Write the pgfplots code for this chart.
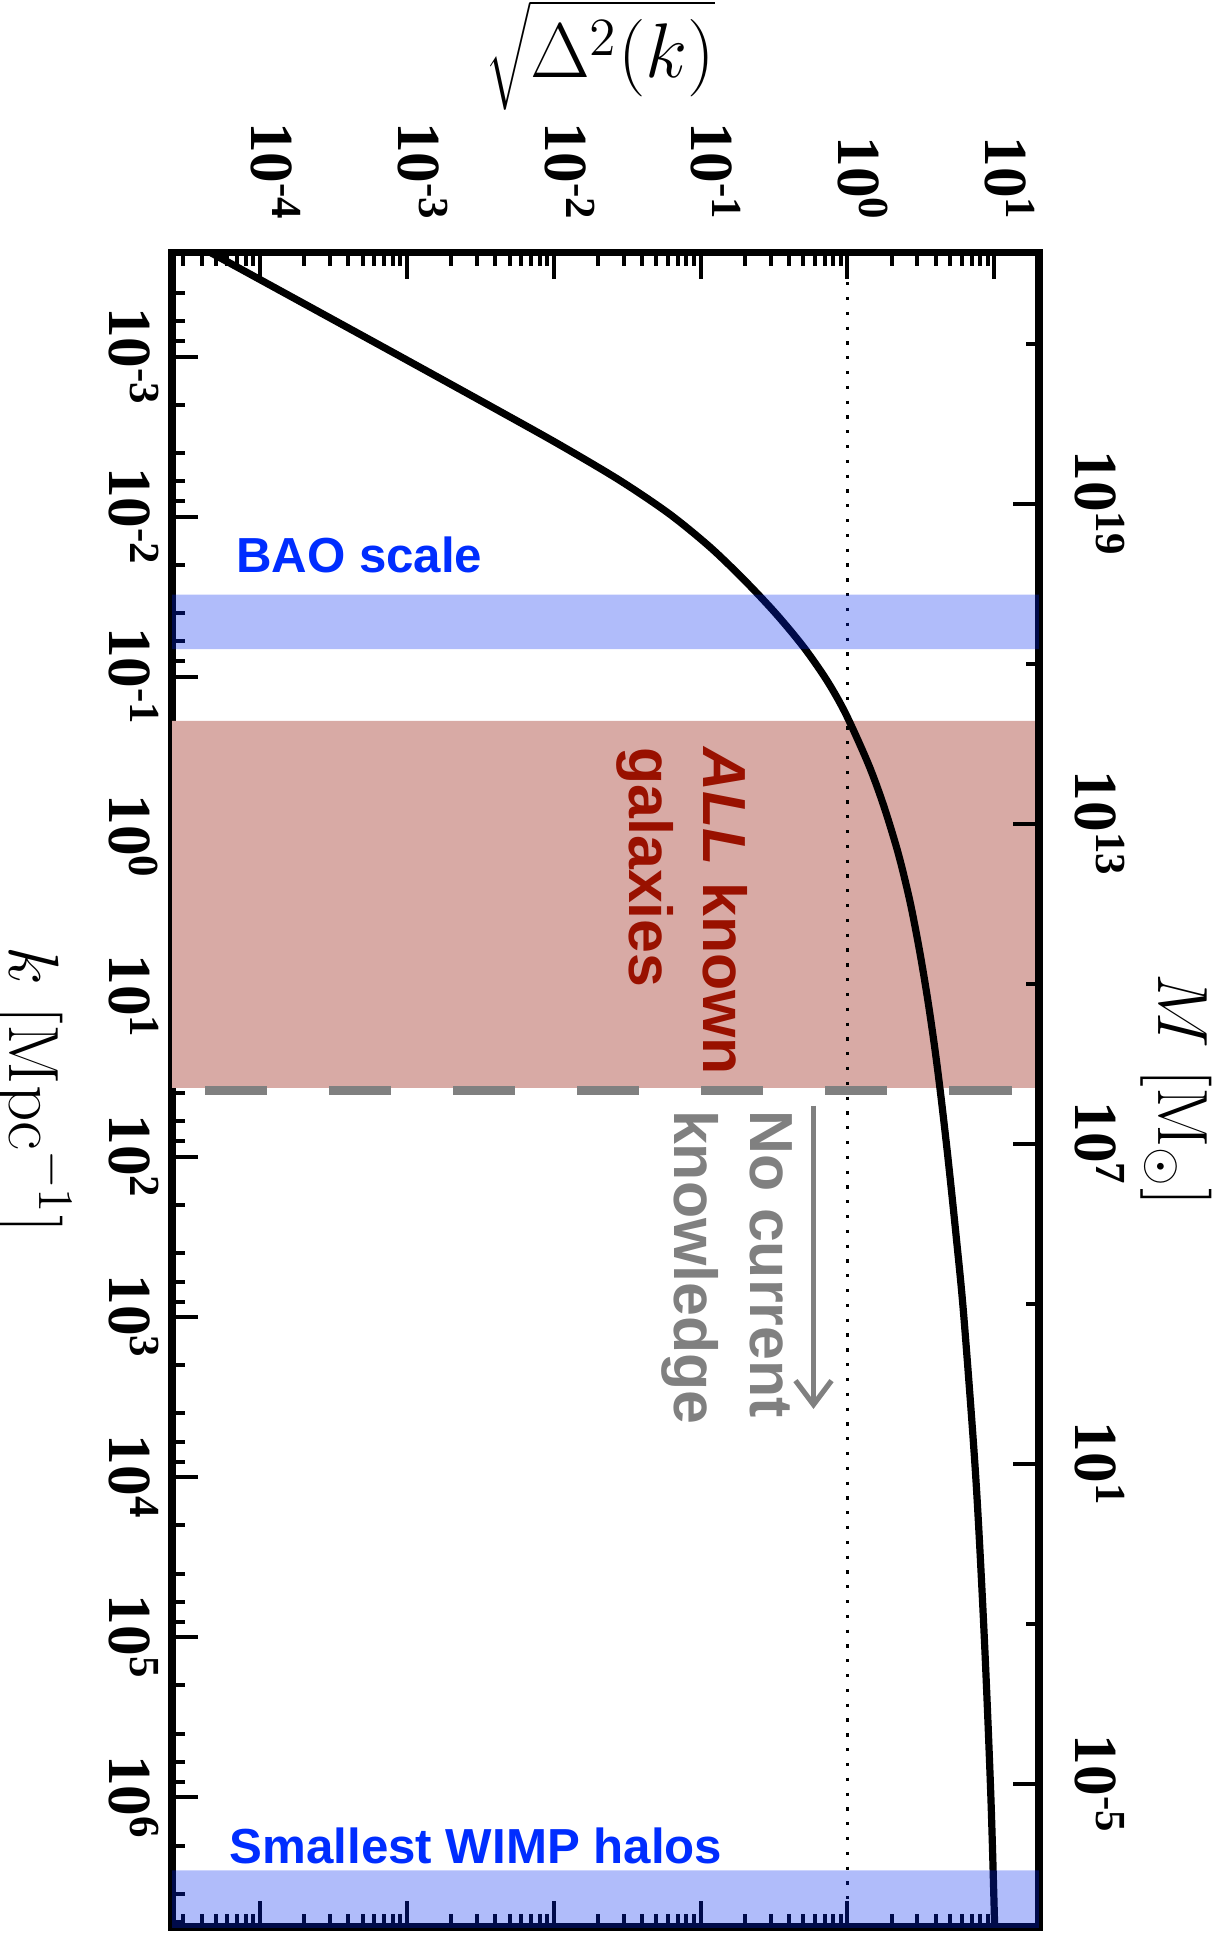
\documentclass[border=0pt]{standalone}
\usepackage{pgfplots}
\pgfplotsset{compat=1.18}
\usepackage{fontspec}
\usetikzlibrary{arrows.meta}
\newfontfamily\tickfont{Liberation Serif}
\newfontfamily\annfont{Liberation Sans}
\definecolor{baoblue}{RGB}{0,45,255}
\definecolor{bandblue}{RGB}{0,38,240}
\definecolor{galred}{RGB}{153,17,0}
\definecolor{bandred}{RGB}{216,170,165}
\definecolor{ncgray}{RGB}{128,128,128}
\newcommand{\ticklabfont}{\tickfont\bfseries\fontsize{15.3}{16}\selectfont}
\newcommand{\labfont}{\fontsize{17.28}{20}\selectfont}
\newcommand{\annsmall}{\annfont\bfseries\fontsize{12.3}{14}\selectfont}
\newcommand{\annbig}{\annfont\bfseries\fontsize{15.2}{18}\selectfont}
\begin{document}
\begin{tikzpicture}
\begin{axis}[
  scale only axis, width=216.6pt, height=418.4pt,
  xmode=log, ymode=log, y dir=reverse,
  xmin=2.518e-5, xmax=20.14, ymin=2.239e-4, ymax=6.457e6,
  axis line style={line width=1.8pt},
  tick style={line width=1pt, black},
  major tick length=6.6pt, minor tick length=3.3pt,
  tick align=inside,
  xtick pos=both, xticklabel pos=right, ytick pos=left,
  xtick={1e-4,1e-3,1e-2,1e-1,1,10},
  xticklabels={10\textsuperscript{-4},10\textsuperscript{-3},10\textsuperscript{-2},10\textsuperscript{-1},10\textsuperscript{0},10\textsuperscript{1}},
  minor xtick={3e-5,4e-5,5e-5,6e-5,7e-5,8e-5,9e-5,
    2e-4,3e-4,4e-4,5e-4,6e-4,7e-4,8e-4,9e-4,
    2e-3,3e-3,4e-3,5e-3,6e-3,7e-3,8e-3,9e-3,
    2e-2,3e-2,4e-2,5e-2,6e-2,7e-2,8e-2,9e-2,
    0.2,0.3,0.4,0.5,0.6,0.7,0.8,0.9,
    2,3,4,5,6,7,8,9,20},
  ytick={1e-3,1e-2,1e-1,1,10,100,1e3,1e4,1e5,1e6},
  yticklabels={10\textsuperscript{-3},10\textsuperscript{-2},10\textsuperscript{-1},10\textsuperscript{0},10\textsuperscript{1},10\textsuperscript{2},10\textsuperscript{3},10\textsuperscript{4},10\textsuperscript{5},10\textsuperscript{6}},
  minor ytick={4e-4,6e-4,8e-4,
    2e-3,4e-3,6e-3,8e-3,
    0.02,0.04,0.06,0.08,
    0.2,0.4,0.6,0.8,
    2,4,6,8,
    20,40,60,80,
    200,400,600,800,
    2e3,4e3,6e3,8e3,
    2e4,4e4,6e4,8e4,
    2e5,4e5,6e5,8e5,
    2e6,4e6,6e6},
  xticklabel style={font=\ticklabfont, rotate=-90, anchor=mid east, inner sep=0pt},
  yticklabel style={font=\ticklabfont, rotate=-90, anchor=north, inner sep=0pt},
  xticklabel shift=7.6pt, yticklabel shift=3.2pt,
]
% ALL known galaxies band
\addplot[fill=bandred, draw=none] coordinates {(1e-6,0.1888) (100,0.1888) (100,36.98) (1e-6,36.98) (1e-6,0.1888)};
% dashed limit
\addplot[ncgray, line width=2.3pt, dash pattern=on 15.5pt off 15.5pt, dash phase=22.75pt] coordinates {(2.518e-5,38.55) (20.14,38.55)};
% dotted Delta = 1
\addplot[black, line width=0.8pt, dash pattern=on 0.8pt off 2.9pt] coordinates {(1,2.239e-4) (1,6.457e6)};
% sqrt(Delta^2(k)) : (Delta, k)
\addplot[black, line width=1.8pt, smooth, tension=0.5] coordinates {
(3.648e-5,1.995e-4)
(1.009e-4,3.319e-4)
(8.650e-4,9.772e-4)
(4.335e-3,2.208e-3)
(1.117e-2,3.589e-3)
(2.812e-2,5.929e-3)
(6.095e-2,9.572e-3)
(0.1156,1.545e-2)
(0.1995,2.500e-2)
(0.3258,4.036e-2)
(0.5035,6.531e-2)
(0.7244,0.1054)
(0.9727,0.1702)
(1.387,0.3499)
(1.758,0.6310)
(2.213,1.259)
(2.661,2.512)
(3.083,5.012)
(3.499,10)
(3.908,19.95)
(4.305,39.81)
(4.831,100)
(5.508,316.2)
(6.209,1000)
(7.482,1e4)
(8.551,1e5)
(9.484,1e6)
(10.09,7.079e6)
};
% arrow
\addplot[ncgray, line width=1.3pt, -{Straight Barb[length=6pt,width=9pt]}] coordinates {(0.5875,47.75) (0.5875,3750)};
\end{axis}
\begin{axis}[
  scale only axis, width=216.6pt, height=418.4pt,
  xmode=log, ymode=log, y dir=reverse,
  xmin=2.518e-5, xmax=20.14, ymin=2.239e-4, ymax=6.457e6,
  axis line style={line width=1.8pt},
  tick style={line width=1pt, black},
  major tick length=6.6pt, minor tick length=3.3pt,
  tick align=inside,
  hide x axis, axis y line*=right,
  ytick={8.299e-3,0.8299,82.99,8299,8.299e5},
  yticklabels={10\textsuperscript{19},10\textsuperscript{13},10\textsuperscript{7},10\textsuperscript{1},10\textsuperscript{-5}},
  minor ytick={8.299e-4,8.299e-2,8.299,829.9,8.299e4},
  yticklabel style={font=\ticklabfont, rotate=-90, anchor=south, inner sep=0pt},
  yticklabel shift=8.7pt,
]
\addplot[fill=bandblue, fill opacity=0.31, draw=none] coordinates {(1e-6,0.0307) (100,0.0307) (100,0.0673) (1e-6,0.0673) (1e-6,0.0307)};
\addplot[fill=bandblue, fill opacity=0.31, draw=none] coordinates {(1e-6,2.858e6) (100,2.858e6) (100,1e8) (1e-6,1e8) (1e-6,2.858e6)};
\node[anchor=base west, inner sep=0pt, text=baoblue, font=\annsmall] at (axis cs:6.776e-5,0.02218) {BAO scale};
\node[anchor=base west, inner sep=0pt, text=baoblue, font=\annsmall] at (axis cs:6.152e-5,2.582e6) {Smallest WIMP halos};
\node[rotate=-90, anchor=base west, inner sep=0pt, text=galred, font=\annbig] at (axis cs:0.1045,0.2729) {{\itshape ALL} known};
\node[rotate=-90, anchor=base west, inner sep=0pt, text=galred, font=\annbig] at (axis cs:0.03258,0.2729) {galaxies};
\node[rotate=-90, anchor=base west, inner sep=0pt, text=ncgray, font=\annbig] at (axis cs:0.2183,50.35) {No current};
\node[rotate=-90, anchor=base west, inner sep=0pt, text=ncgray, font=\annbig] at (axis cs:0.06683,50.35) {knowledge};
\end{axis}
% axis titles
\node[anchor=south, inner sep=0pt, font=\labfont] at (107.0pt,453.8pt) {\scalebox{1.12}{$\sqrt{\Delta^{\smash{2}}(k)}$}};
\node[rotate=-90, anchor=north, inner sep=0pt, font=\labfont] at (-25.05pt,209.2pt) {\scalebox{1.03}{$k\ [\mathrm{Mpc}^{-1}]$}};
\node[rotate=-90, anchor=south, inner sep=0pt, font=\labfont] at (241.9pt,209.2pt) {\scalebox{1.03}{$M\ [\mathrm{M}_\odot]$}};
\pgfresetboundingbox
\path[use as bounding box] (-43.0pt,-3.5pt) rectangle (260.8pt,481.5pt);
\end{tikzpicture}
\end{document}
